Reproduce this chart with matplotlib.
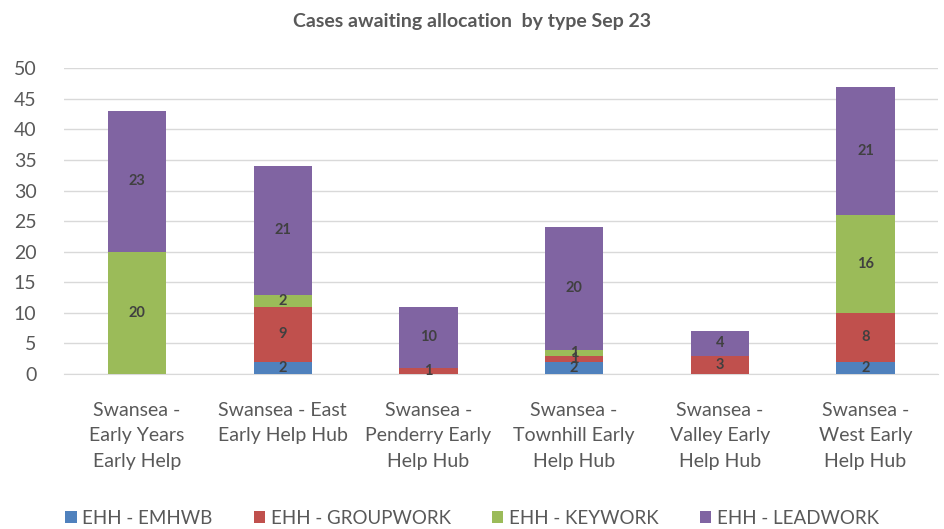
import matplotlib
matplotlib.use("Agg")
import matplotlib.pyplot as plt
import numpy as np

plt.rcParams['font.family'] = ['Lato', 'DejaVu Sans']

categories = ["Swansea -\nEarly Years\nEarly Help",
              "Swansea - East\nEarly Help Hub",
              "Swansea -\nPenderry Early\nHelp Hub",
              "Swansea -\nTownhill Early\nHelp Hub",
              "Swansea -\nValley Early\nHelp Hub",
              "Swansea -\nWest Early\nHelp Hub"]
emhwb = [0, 2, 0, 2, 0, 2]
groupwork = [0, 9, 1, 1, 3, 8]
keywork = [20, 2, 0, 1, 0, 16]
leadwork = [23, 21, 10, 20, 4, 21]

series = [("EHH - EMHWB", emhwb, "#4F81BD"),
          ("EHH - GROUPWORK", groupwork, "#C0504D"),
          ("EHH - KEYWORK", keywork, "#9BBB59"),
          ("EHH - LEADWORK", leadwork, "#8064A2")]

fig = plt.figure(figsize=(9.44, 5.29), dpi=100)
ax = fig.add_axes([0.068, 0.293, 0.926, 0.578])

x = np.arange(len(categories))
bottom = np.zeros(len(categories))
for name, vals, col in series:
    vals = np.array(vals, dtype=float)
    ax.bar(x, vals, 0.4, bottom=bottom, color=col, label=name, zorder=3)
    for xi, v, b in zip(x, vals, bottom):
        if v > 0:
            ax.text(xi, b + v / 2, str(int(v)), ha='center', va='center',
                    fontsize=10.5, fontweight='bold', color='#404040', zorder=4)
    bottom += vals

ax.set_xlim(-0.5, len(categories) - 0.5)
ax.set_ylim(0, 50)
ax.set_yticks(range(0, 51, 5))
ax.set_xticks(x)
ax.set_xticklabels(categories, fontsize=14, color='#595959', linespacing=1.62)
ax.tick_params(axis='y', labelsize=14, labelcolor='#595959', length=0, pad=20)
ax.tick_params(axis='x', length=0, pad=20)
ax.grid(axis='y', color='#D9D9D9', linewidth=1, zorder=0)
for s in ['top', 'right', 'left']:
    ax.spines[s].set_visible(False)
ax.spines['bottom'].set_color('#D9D9D9')

fig.text(0.5, 0.960, "Cases awaiting allocation  by type Sep 23", ha='center',
         va='center', fontsize=14, fontweight='bold', color='#595959')

fig.legend(loc='lower center', bbox_to_anchor=(0.5, -0.028), ncol=4, frameon=False,
           fontsize=13.5, labelcolor='#595959', handlelength=0.6, handleheight=0.6,
           handletextpad=0.3, columnspacing=2.2)

fig.savefig("out.png", dpi=100)
